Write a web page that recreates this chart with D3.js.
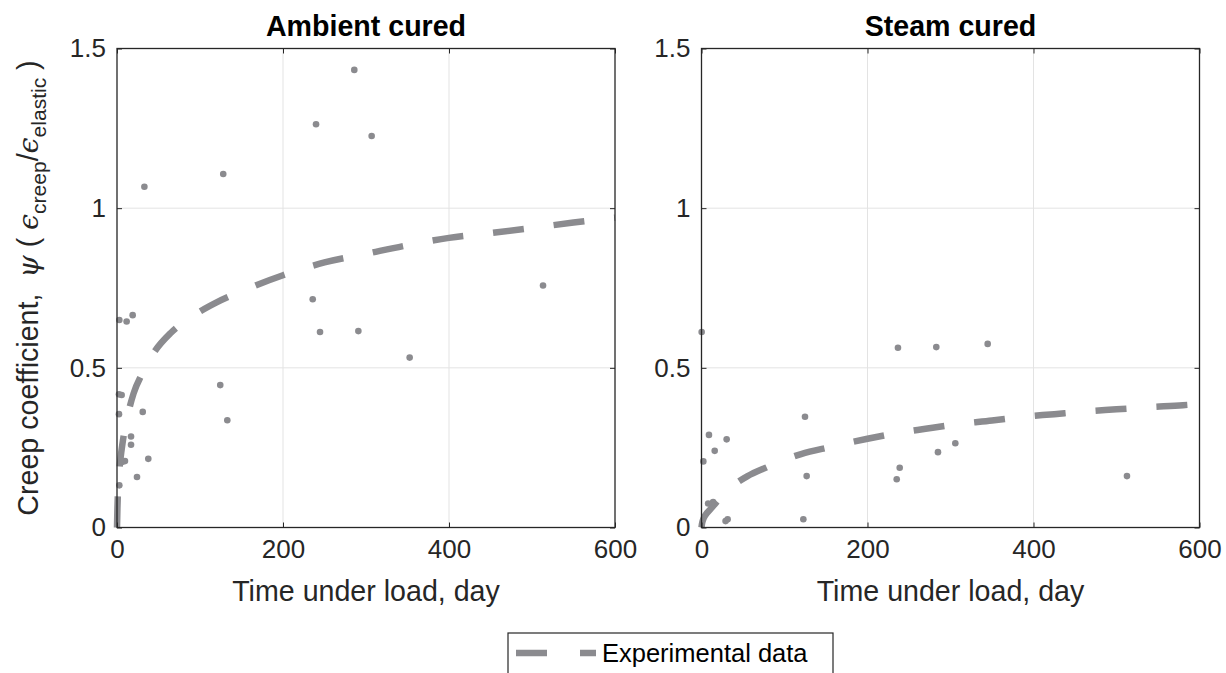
<!DOCTYPE html>
<html>
<head>
<meta charset="utf-8">
<script src="https://cdn.jsdelivr.net/npm/d3@7"></script>
<style>
  body { margin: 0; background: #fff; }
  text { font-family: "Liberation Sans", Arial, Helvetica, sans-serif; }
</style>
</head>
<body>
<div class="chart"></div>
<script>
// axis ticks
const xTicks = [0, 200, 400, 600]
const yTicks = [0, 0.5, 1, 1.5]
const yTickLabels = ["0", "0.5", "1", "1.5"]

// fitted curves: [day, psi]
const ambientCurve = [
  [0, 0], [0.5, 0.06], [1, 0.1], [2, 0.15], [4, 0.21], [7, 0.27], [12, 0.34],
  [20, 0.42], [30, 0.48], [45, 0.55], [65, 0.61], [90, 0.66], [120, 0.705],
  [150, 0.74], [200, 0.79], [250, 0.83], [300, 0.857], [350, 0.884],
  [400, 0.907], [450, 0.922], [500, 0.938], [550, 0.955], [600, 0.97]
]
const steamCurve = [
  [0, 0], [0.5, 0.01], [2, 0.025], [5, 0.04], [10, 0.055], [15, 0.07],
  [25, 0.1], [40, 0.135], [55, 0.16], [80, 0.19], [100, 0.212], [120, 0.23],
  [155, 0.252], [200, 0.278], [230, 0.293], [270, 0.309], [310, 0.324],
  [350, 0.335], [385, 0.346], [425, 0.355], [460, 0.363], [500, 0.37],
  [540, 0.377], [580, 0.383], [600, 0.387]
]

// experimental points: [day, psi]
const ambientPoints = [
  [2.8, 0.650], [11.6, 0.645], [18.9, 0.665], [33, 1.067], [128, 1.107],
  [239.8, 1.263], [306.8, 1.226], [285.9, 1.433], [235.8, 0.715],
  [244.6, 0.612], [290.8, 0.615], [352.6, 0.532], [513.3, 0.758],
  [124.4, 0.446], [132.9, 0.336], [2.4, 0.417], [5.6, 0.415], [2.4, 0.355],
  [31, 0.362], [16.9, 0.285], [16.9, 0.259], [37.7, 0.215], [9.6, 0.208],
  [6, 0.205], [24.1, 0.158], [2.8, 0.132]
]
const steamPoints = [
  [0.2, 0.612], [9, 0.29], [15.9, 0.24], [2.2, 0.207], [30.3, 0.276],
  [31.5, 0.026], [29, 0.02], [14, 0.08], [8, 0.075], [124.7, 0.347],
  [126.7, 0.161], [122.7, 0.026], [236.7, 0.563], [282.9, 0.565],
  [344.8, 0.575], [238.8, 0.187], [235.2, 0.151], [284.9, 0.236],
  [305.8, 0.264], [512.6, 0.161]
]

const colors = {
  data: "#8b8b8f",
  axis: "#262626",
  grid: "#e3e3e3"
}

const dims = {
  width: 1226,
  height: 673,
  top: 48.5,
  bottom: 527.5,
  panelWidth: 498
}
const panelLefts = [117, 701.5]

const svg = d3.select(".chart").append("svg")
    .attr("width", dims.width)
    .attr("height", dims.height)

svg.append("rect")
    .attr("width", dims.width)
    .attr("height", dims.height)
    .attr("fill", "#fff")

const yScale = d3.scaleLinear()
  .domain([0, 1.5])
  .range([dims.bottom, dims.top])

const drawPanel = (left, title, curve, points) => {
  const xScale = d3.scaleLinear()
    .domain([0, 600])
    .range([left, left + dims.panelWidth])

  const g = svg.append("g")

  // grid
  g.selectAll(".gx")
    .data(xTicks.slice(1, -1))
    .join("line")
      .attr("x1", d => xScale(d)).attr("x2", d => xScale(d))
      .attr("y1", dims.top).attr("y2", dims.bottom)
      .attr("stroke", colors.grid)
  g.selectAll(".gy")
    .data(yTicks.slice(1, -1))
    .join("line")
      .attr("y1", d => yScale(d)).attr("y2", d => yScale(d))
      .attr("x1", left).attr("x2", left + dims.panelWidth)
      .attr("stroke", colors.grid)

  // curve
  const line = d3.line()
    .x(d => xScale(d[0]))
    .y(d => yScale(d[1]))
    .curve(d3.curveMonotoneX)

  g.append("path")
      .attr("d", line(curve))
      .attr("fill", "none")
      .attr("stroke", colors.data)
      .attr("stroke-width", 6.5)
      .attr("stroke-dasharray", "31,30")

  g.selectAll(".pt")
    .data(points)
    .join("circle")
      .attr("cx", d => xScale(d[0]))
      .attr("cy", d => yScale(d[1]))
      .attr("r", 3.3)
      .attr("fill", colors.data)

  // axes (ticks inward on all sides)
  const styleAxis = sel => {
    sel.select(".domain").remove()
    sel.selectAll(".tick line").attr("stroke", colors.axis)
    sel.selectAll(".tick text")
      .attr("fill", colors.axis)
      .style("font-size", "26px")
  }

  g.append("g")
      .attr("transform", `translate(0,${dims.bottom})`)
      .call(d3.axisBottom(xScale).tickValues(xTicks).tickSize(-5).tickPadding(12))
      .call(styleAxis)
  g.append("g")
      .attr("transform", `translate(0,${dims.top})`)
      .call(d3.axisTop(xScale).tickValues(xTicks).tickSize(-5).tickFormat(""))
      .call(styleAxis)
  g.append("g")
      .attr("transform", `translate(${left},0)`)
      .call(d3.axisLeft(yScale).tickValues(yTicks).tickSize(-5).tickPadding(11)
        .tickFormat((d, i) => yTickLabels[i]))
      .call(styleAxis)
  g.append("g")
      .attr("transform", `translate(${left + dims.panelWidth},0)`)
      .call(d3.axisRight(yScale).tickValues(yTicks).tickSize(-5).tickFormat(""))
      .call(styleAxis)

  g.append("rect")
      .attr("x", left).attr("y", dims.top)
      .attr("width", dims.panelWidth).attr("height", dims.bottom - dims.top)
      .attr("fill", "none")
      .attr("stroke", colors.axis)
      .attr("stroke-width", 1.3)

  g.append("text")
      .attr("x", left + dims.panelWidth / 2)
      .attr("y", 36)
      .attr("text-anchor", "middle")
      .style("font-size", "28.6px")
      .style("font-weight", "bold")
      .attr("fill", "#000")
      .text(title)

  g.append("text")
      .attr("x", left + dims.panelWidth / 2)
      .attr("y", 601)
      .attr("text-anchor", "middle")
      .style("font-size", "28.6px")
      .attr("fill", colors.axis)
      .text("Time under load, day")
}

drawPanel(panelLefts[0], "Ambient cured", ambientCurve, ambientPoints)
drawPanel(panelLefts[1], "Steam cured", steamCurve, steamPoints)

// y label with math parts
const yLabel = svg.append("text")
    .attr("transform", `translate(38,${(dims.top + dims.bottom) / 2}) rotate(-90)`)
    .attr("text-anchor", "middle")
    .style("font-size", "28.6px")
    .style("white-space", "pre")
    .attr("fill", colors.axis)

const serif = "'DejaVu Serif', 'Liberation Serif', serif"
yLabel.append("tspan").text("Creep coefficient,  ")
yLabel.append("tspan").style("font-family", serif).style("font-style", "italic").text("ψ")
yLabel.append("tspan").text(" ( ")
yLabel.append("tspan").style("font-family", serif).style("font-style", "italic").text("ϵ")
yLabel.append("tspan").attr("dy", 8).style("font-size", "21px").text("creep")
yLabel.append("tspan").attr("dy", -8).text("/")
yLabel.append("tspan").style("font-family", serif).style("font-style", "italic").text("ϵ")
yLabel.append("tspan").attr("dy", 8).style("font-size", "21px").text("elastic")
yLabel.append("tspan").attr("dy", -8).text(" )")

// legend
const legend = svg.append("g")
legend.append("rect")
    .attr("x", 508).attr("y", 633)
    .attr("width", 325).attr("height", 60)
    .attr("fill", "#fff")
    .attr("stroke", colors.axis)
    .attr("stroke-width", 1.2)
legend.append("line")
    .attr("x1", 516).attr("x2", 596)
    .attr("y1", 653).attr("y2", 653)
    .attr("stroke", colors.data)
    .attr("stroke-width", 6.5)
    .attr("stroke-dasharray", "31,33")
legend.append("text")
    .attr("x", 602).attr("y", 662)
    .style("font-size", "25.5px")
    .attr("fill", "#000")
    .text("Experimental data")
</script>
</body>
</html>
